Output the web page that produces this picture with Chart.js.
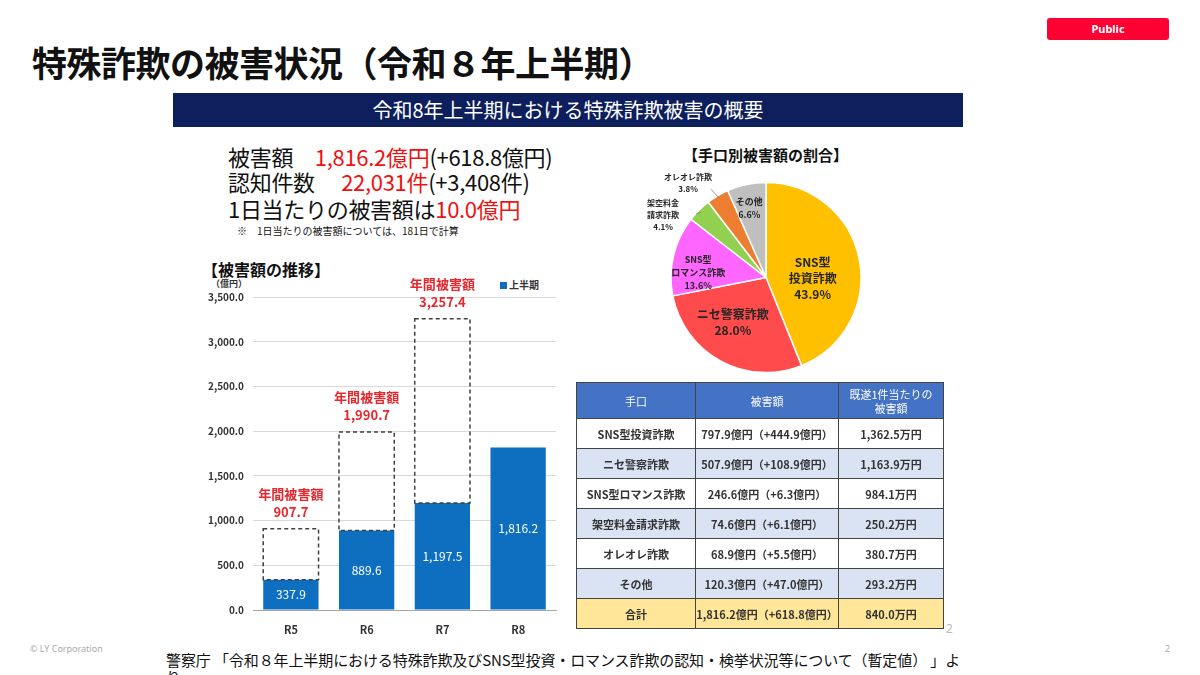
<!DOCTYPE html>
<html lang="ja">
<head>
<meta charset="utf-8">
<script src="https://cdn.jsdelivr.net/npm/chart.js@4.4.1/dist/chart.umd.min.js"></script>
<style>
  body { margin: 0; width: 1200px; height: 675px; overflow: hidden; background: #fff; position: relative;
         font-family: "Noto Sans CJK JP", "Noto Sans", sans-serif; color: #111; }
  .abs { position: absolute; white-space: nowrap; }
  .red { color: #ee1111; }
  #badge { left: 1047px; top: 18px; width: 122px; height: 22px; background: #ff0033; border-radius: 3px;
           color: #fff; font: bold 11px "Noto Sans", sans-serif; text-align: center; line-height: 22px; }
  #title { left: 32px; top: 36px; font-size: 35px; font-weight: bold; letter-spacing: -0.5px; }
  #banner { left: 173px; top: 93px; width: 790px; height: 34px; background: #0d1f5c; color: #fff;
            font-size: 20px; text-align: center; line-height: 34px; }
  .sum { left: 228px; font-size: 22px; line-height: 26px; letter-spacing: -0.3px; }
  #note { left: 237px; top: 223px; font-size: 10px; }
  #barTitle { left: 202px; top: 257px; font-size: 16px; font-weight: bold; }
  #unit { left: 211px; top: 277px; font-size: 9px; font-weight: bold; color: #333; }
  #legend { left: 500px; top: 277px; font-size: 10px; font-weight: bold; color: #333; }
  #legend i { display: inline-block; width: 7px; height: 7px; background: #0e6fc1; margin-right: 2px; }
  #pieTitle { left: 683px; top: 144px; font-size: 15px; font-weight: bold; }
  #tbl { left: 576px; top: 382px; border-collapse: collapse; font-size: 11px; font-weight: bold; color: #333; }
  #tbl td { border: 1px solid #444; text-align: center; padding: 0; height: 29px; }
  #tbl tr.hd td { background: #4472c4; color: #fff; height: 35px; font-weight: normal; line-height: 14px; }
  #tbl tr.alt td { background: #dae3f3; }
  #tbl tr.tot td { background: #ffe699; }
  #copy { left: 30px; top: 642px; font: 9px "Noto Sans", sans-serif; color: #aaa; }
  #pg { left: 1165px; top: 642px; font: 9px "Noto Sans", sans-serif; color: #aaa; }
  #pg2 { left: 946px; top: 620px; font: 12px "Noto Sans", sans-serif; color: #bbb; }
  #src { left: 166px; top: 651px; font-size: 15px; line-height: 17px; letter-spacing: -0.1px; }
</style>
</head>
<body>
<div class="abs" id="badge">Public</div>
<div class="abs" id="title">特殊詐欺の被害状況（令和８年上半期）</div>
<div class="abs" id="banner">令和8年上半期における特殊詐欺被害の概要</div>

<div class="abs sum" id="sum1" style="top:143px"></div>
<div class="abs sum" id="sum2" style="top:168px"></div>
<div class="abs sum" id="sum3" style="top:195px"></div>
<div class="abs" id="note">※　1日当たりの被害額については、181日で計算</div>

<div class="abs" id="barTitle">【被害額の推移】</div>
<div class="abs" id="unit">（億円）</div>
<div class="abs" id="legend"><i></i>上半期</div>
<canvas class="abs" id="bar" width="360" height="370" style="left:200px;top:270px"></canvas>

<div class="abs" id="pieTitle">【手口別被害額の割合】</div>
<canvas class="abs" id="pie" width="320" height="215" style="left:606px;top:170px"></canvas>

<table class="abs" id="tbl"></table>
<div class="abs" id="pg2">2</div>

<div class="abs" id="copy">© LY Corporation</div>
<div class="abs" id="pg">2</div>
<div class="abs" id="src">警察庁 「令和８年上半期における特殊詐欺及びSNS型投資・ロマンス詐欺の認知・検挙状況等について（暫定値） 」よ<br>り</div>

<script>
// bar chart: damage by period (億円)
const years = ['R5', 'R6', 'R7', 'R8'];
const firstHalf = [337.9, 889.6, 1197.5, 1816.2];
const annualTotal = [907.7, 1990.7, 3257.4, null];
const yMax = 3500;
const yStep = 500;

// pie: share by method (%)
const methods = ['SNS型投資詐欺', 'ニセ警察詐欺', 'SNS型ロマンス詐欺', '架空料金請求詐欺', 'オレオレ詐欺', 'その他'];
const sharePct = [43.9, 28.0, 13.6, 4.1, 3.8, 6.6];
const pieNames = [['SNS型', '投資詐欺'], ['ニセ警察詐欺'], ['SNS型', 'ロマンス詐欺'], ['架空料金', '請求詐欺'], ['オレオレ詐欺'], ['その他']];
const pieColors = ['#ffc000', '#ff4b4b', '#ff66ff', '#92d050', '#ed7d31', '#bfbfbf'];

// table
const tableMethods = ['SNS型投資詐欺', 'ニセ警察詐欺', 'SNS型ロマンス詐欺', '架空料金請求詐欺', 'オレオレ詐欺', 'その他', '合計'];
const damageAmt = [797.9, 507.9, 246.6, 74.6, 68.9, 120.3, 1816.2];
const damageDiff = [444.9, 108.9, 6.3, 6.1, 5.5, 47.0, 618.8];
const perCase = [1362.5, 1163.9, 984.1, 250.2, 380.7, 293.2, 840.0];

// summary
const totalDamage = 1816.2, totalDiff = 618.8;
const cases = 22031, casesDiff = 3408;
const perDay = 10.0;

const f1 = v => v.toLocaleString('en-US', { minimumFractionDigits: 1, maximumFractionDigits: 1 });
const f0 = v => v.toLocaleString('en-US');

document.getElementById('sum1').innerHTML = '被害額　<span class="red">' + f1(totalDamage) + '億円</span>(+' + f1(totalDiff) + '億円)';
document.getElementById('sum2').innerHTML = '認知件数　 <span class="red">' + f0(cases) + '件</span>(+' + f0(casesDiff) + '件)';
document.getElementById('sum3').innerHTML = '1日当たりの被害額は<span class="red">' + f1(perDay) + '億円</span>';

let rows = '<tr class="hd"><td style="width:118px">手口</td><td style="width:142px">被害額</td><td style="width:104px">既遂1件当たりの<br>被害額</td></tr>';
tableMethods.forEach((m, i) => {
  const cls = i === tableMethods.length - 1 ? 'tot' : (i % 2 ? 'alt' : '');
  rows += '<tr class="' + cls + '"><td>' + m + '</td><td>' + f1(damageAmt[i]) + '億円（+' + f1(damageDiff[i]) +
          '億円）</td><td>' + f1(perCase[i]) + '万円</td></tr>';
});
document.getElementById('tbl').innerHTML = rows;

const FONT = '"Noto Sans CJK JP", "Noto Sans", sans-serif';

const annualBox = {
  id: 'annualBox',
  afterDatasetsDraw(chart) {
    const ctx = chart.ctx;
    const aMeta = chart.getDatasetMeta(0).data;
    const hMeta = chart.getDatasetMeta(1).data;
    ctx.save();
    hMeta.forEach((bar, i) => {
      const p = bar.getProps(['x', 'y', 'base'], true);
      ctx.fillStyle = '#fff';
      ctx.font = '12px ' + FONT;
      ctx.textAlign = 'center';
      ctx.textBaseline = 'middle';
      ctx.fillText(f1(firstHalf[i]), p.x, (p.y + p.base) / 2);
    });
    aMeta.forEach((bar, i) => {
      if (annualTotal[i] == null) return;
      const p = bar.getProps(['x', 'y', 'width'], true);
      const top = hMeta[i].getProps(['y'], true).y;
      ctx.setLineDash([4, 3]);
      ctx.strokeStyle = '#404040';
      ctx.lineWidth = 1.5;
      ctx.strokeRect(p.x - p.width / 2, p.y, p.width, top - p.y);
      ctx.setLineDash([]);
      ctx.fillStyle = '#e8262c';
      ctx.font = 'bold 13px ' + FONT;
      ctx.textAlign = 'center';
      ctx.textBaseline = 'middle';
      ctx.fillText('年間被害額', p.x, p.y - 35);
      ctx.fillText(f1(annualTotal[i]), p.x, p.y - 17);
    });
    ctx.restore();
  }
};

new Chart(document.getElementById('bar'), {
  type: 'bar',
  data: {
    labels: years,
    datasets: [
      { label: '年間', data: annualTotal, backgroundColor: 'rgba(0,0,0,0)', borderWidth: 0, grouped: false, order: 2 },
      { label: '上半期', data: firstHalf, backgroundColor: '#0e6fc1', borderWidth: 0, grouped: false, order: 1 }
    ]
  },
  options: {
    responsive: false,
    animation: false,
    layout: { padding: { top: 27, right: 4 } },
    plugins: { legend: { display: false }, tooltip: { enabled: false } },
    datasets: { bar: { categoryPercentage: 1, barPercentage: 0.73 } },
    scales: {
      x: {
        grid: { display: false },
        border: { display: true, color: '#a6a6a6', width: 1 },
        ticks: { color: '#333', font: { size: 11, weight: 'bold', family: FONT }, padding: 5 },
        afterFit: s => { s.height = 30; }
      },
      y: {
        min: 0, max: yMax,
        grid: { color: '#d9d9d9', drawTicks: false },
        border: { display: false },
        ticks: { stepSize: yStep, color: '#333', padding: 9, font: { size: 10, weight: 'bold', family: FONT }, callback: v => f1(v) },
        afterFit: s => { s.width = 53; }
      }
    }
  },
  plugins: [annualBox]
});

// per-slice label placement (radius factor, shift, or outside with leader)
const pieLabelPos = [
  { rf: 0.5, dx: 0, dy: 10, size: 12 },
  { rf: 0.6, dx: -6, dy: -5, size: 12 },
  { rf: 0.68, dx: -5, dy: 10, size: 9 },
  { out: true, lx: -38, ly: 3, ex: -5, ey: 2, size: 8 },
  { out: true, lx: -31, ly: -15, ex: -8, ey: -9, size: 8 },
  { rf: 0.7, dx: -3, dy: -4, size: 9 }
];

const pieText = {
  id: 'pieText',
  afterDatasetsDraw(chart) {
    const ctx = chart.ctx;
    ctx.save();
    ctx.textAlign = 'center';
    ctx.textBaseline = 'middle';
    chart.getDatasetMeta(0).data.forEach((arc, i) => {
      const p = arc.getProps(['x', 'y', 'startAngle', 'endAngle', 'outerRadius'], true);
      const mid = (p.startAngle + p.endAngle) / 2;
      const o = pieLabelPos[i];
      const lines = pieNames[i].concat([sharePct[i].toFixed(1) + '%']);
      const lh = o.size + 4;
      let cx, cy;
      if (o.out) {
        const ex = p.x + Math.cos(mid) * p.outerRadius * 0.97;
        const ey = p.y + Math.sin(mid) * p.outerRadius * 0.97;
        ctx.strokeStyle = '#7f7f7f';
        ctx.lineWidth = 0.8;
        ctx.beginPath();
        ctx.moveTo(ex, ey);
        ctx.lineTo(ex + o.ex, ey + o.ey);
        ctx.stroke();
        cx = ex + o.lx;
        cy = ey + o.ly;
      } else {
        cx = p.x + Math.cos(mid) * p.outerRadius * o.rf + o.dx;
        cy = p.y + Math.sin(mid) * p.outerRadius * o.rf + o.dy;
      }
      ctx.fillStyle = '#262626';
      ctx.font = 'bold ' + o.size + 'px ' + FONT;
      lines.forEach((t, k) => {
        ctx.fillText(t, cx, cy + (k - (lines.length - 1) / 2) * lh);
      });
    });
    ctx.restore();
  }
};

new Chart(document.getElementById('pie'), {
  type: 'pie',
  data: {
    labels: methods,
    datasets: [{ data: sharePct, backgroundColor: pieColors, borderColor: '#fff', borderWidth: 1.5 }]
  },
  options: {
    responsive: false,
    animation: false,
    radius: 95,
    plugins: { legend: { display: false }, tooltip: { enabled: false } }
  },
  plugins: [pieText]
});
</script>
</body>
</html>
